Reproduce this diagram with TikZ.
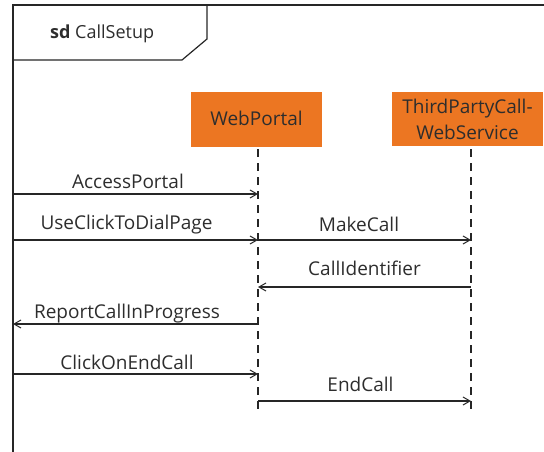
\documentclass[tikz,border=0pt]{standalone}
\usepackage{fontspec}
\setmainfont{Open Sans}
\usetikzlibrary{arrows.meta}
\definecolor{orng}{RGB}{236,118,34}
\definecolor{txt}{RGB}{45,45,45}
\tikzset{
  lifebox/.style={fill=orng, draw=none, text=txt, align=center, font=\fontsize{19}{26}\selectfont, inner sep=0pt},
  frameline/.style={line width=1.2pt, draw=black!85},
  lifeline/.style={line width=1.2pt, draw=black!85, dash pattern=on 8pt off 6pt},
  msg/.style={line width=1.1pt, draw=black!85, -{Straight Barb[length=7pt,width=8pt,line width=1pt]}},
  lbl/.style={text=txt, font=\fontsize{19}{22}\selectfont, inner sep=0pt, anchor=base}
}
\begin{document}
\begin{tikzpicture}[x=1pt,y=-1pt]
\useasboundingbox (0,0) rectangle (544,452);
% frame
\coordinate (ftl) at (13,5);
\coordinate (ftr) at (544,5);
\coordinate (fbl) at (13,452);
\draw[frameline] (ftr) -- (ftl) -- (fbl);
\coordinate (t1) at (207,5);
\coordinate (t2) at (207,39);
\coordinate (t3) at (182,60);
\coordinate (t4) at (13,60);
\draw[frameline] (t1) -- (t2) -- (t3) -- (t4);
\node[lbl, anchor=base west, font=\fontsize{18}{21}\selectfont] (title) at (50,38.5) {\textbf{sd} CallSetup};
% lifeline heads
\node[lifebox, minimum width=131pt, minimum height=55pt] (wp) at (256.5,119.5) {\raisebox{2pt}{WebPortal}};
\node[lifebox, minimum width=151pt, minimum height=54pt] (tp) at (467.5,119) {ThirdPartyCall-\\WebService};
% lifelines
\coordinate (wptop) at (258,149);
\coordinate (wpbot) at (258,409);
\coordinate (tptop) at (471,149);
\coordinate (tpbot) at (471,409);
\draw[lifeline] (wptop) -- (wpbot);
\draw[lifeline] (tptop) -- (tpbot);
% message rows
\coordinate (r1) at (0,194);
\coordinate (r2) at (0,240);
\coordinate (r3) at (0,287);
\coordinate (r4) at (0,324);
\coordinate (r5) at (0,374);
\coordinate (r6) at (0,401);
\draw[msg] (ftl |- r1) -- (wptop |- r1);
\draw[msg] (ftl |- r2) -- (wptop |- r2);
\draw[msg] (wptop |- r2) -- (tptop |- r2);
\draw[msg] (tptop |- r3) -- (wptop |- r3);
\draw[msg] (wptop |- r4) -- (ftl |- r4);
\draw[msg] (ftl |- r5) -- (wptop |- r5);
\draw[msg] (wptop |- r6) -- (tptop |- r6);
% labels
\node[lbl] (m1) at (128,188) {AccessPortal};
\node[lbl] (m2) at (126.5,229) {UseClickToDialPage};
\node[lbl] (m3) at (359,231) {MakeCall};
\node[lbl] (m4) at (364.5,275) {CallIdentifier};
\node[lbl] (m5) at (127,318) {ReportCallInProgress};
\node[lbl] (m6) at (127,369) {ClickOnEndCall};
\node[lbl] (m7) at (360.5,391) {EndCall};
\end{tikzpicture}
\end{document}
